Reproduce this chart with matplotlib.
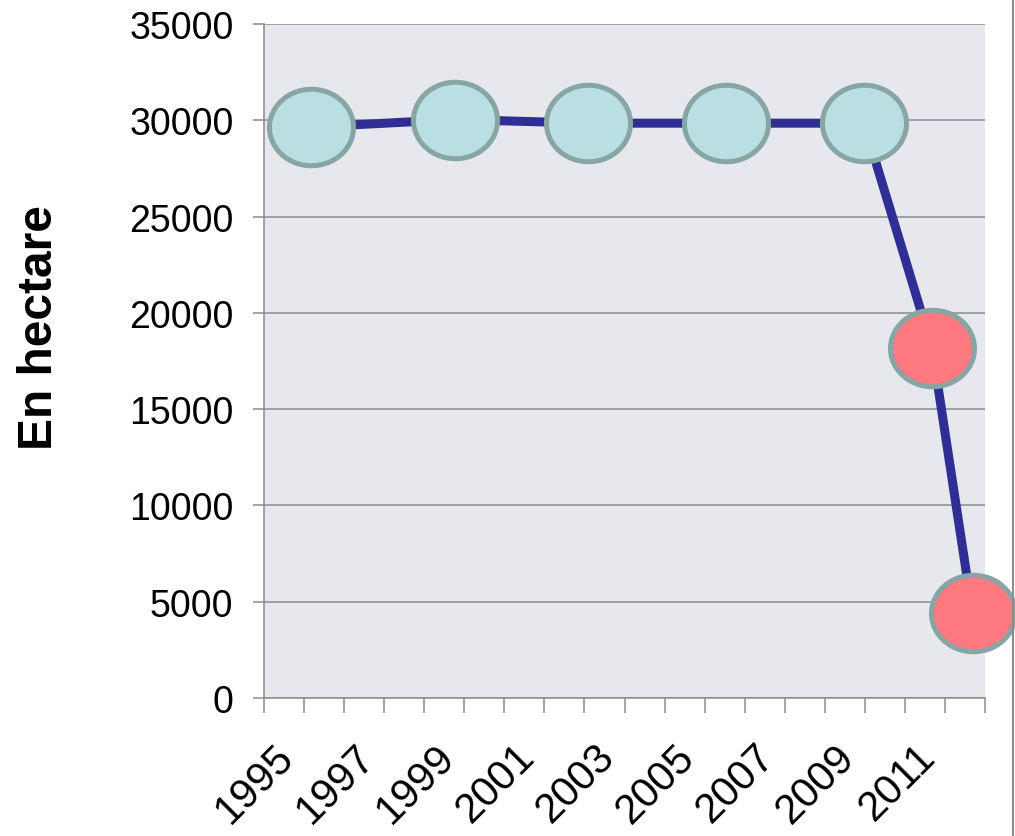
import numpy as np
import matplotlib.pyplot as plt
from matplotlib.path import Path
from matplotlib.lines import Line2D
from matplotlib.transforms import ScaledTranslation

# Datos: superficie (hectáreas) por año
anios = [1995.68, 1999.28, 2002.59, 2006.04, 2009.48, 2011.18, 2012.19]
hectareas = [29650, 30040, 29850, 29850, 29850, 18170, 4390]
anios_etiqueta = [1995, 1997, 1999, 2001, 2003, 2005, 2007, 2009, 2011]

plt.rcParams['font.family'] = ['Liberation Sans', 'DejaVu Sans']

fig = plt.figure(figsize=(10.15, 8.37), dpi=100)
ax = fig.add_axes([264 / 1015, 1 - 699 / 837, 721 / 1015, 674 / 837])
ax.set_facecolor('#E7E8EE')

# Marcador elíptico (un poco más ancho que alto)
t = np.linspace(0, 2 * np.pi, 120)
elipse = Path(np.column_stack([np.cos(t), 0.91 * np.sin(t)]))

ax.plot(anios, hectareas, color='#2E2E94', linewidth=6.5, zorder=3, clip_on=False)
ax.plot(anios[:5], hectareas[:5], linestyle='none', marker=elipse, markersize=60.5,
        markerfacecolor='#B9DFE2', markeredgecolor='#88A5A6', markeredgewidth=3.6,
        zorder=4, clip_on=False)
ax.plot(anios[5:], hectareas[5:], linestyle='none', marker=elipse, markersize=60.5,
        markerfacecolor='#FF7A80', markeredgecolor='#88A5A6', markeredgewidth=3.6,
        zorder=4, clip_on=False)

# Ejes: marcas entre categorías, etiquetas en los años impares
ax.set_xlim(1994.5, 2012.5)
ax.set_ylim(0, 35000)
ax.set_yticks(np.arange(0, 35001, 5000))
ax.set_xticks(np.arange(1994.5, 2012.6, 1))
ax.set_xticklabels([])

# Etiquetas del eje x giradas 45°, ancladas por su esquina superior derecha
trans = ax.get_xaxis_transform() + ScaledTranslation(-0.10, -0.38, fig.dpi_scale_trans)
for a in anios_etiqueta:
    ax.text(a, 0, str(a), transform=trans, rotation=45, rotation_mode='anchor',
            ha='right', va='top', fontsize=30, clip_on=False)

ax.grid(axis='y', color='#8C8C8C', linewidth=1.1, zorder=1)
ax.set_axisbelow(True)
for lado in ['top', 'right']:
    ax.spines[lado].set_visible(False)
for lado in ['left', 'bottom']:
    ax.spines[lado].set_color('#8C8C8C')
    ax.spines[lado].set_linewidth(1.1)

ax.tick_params(axis='y', length=8, width=1.1, color='#8C8C8C', labelsize=27, pad=14)
ax.tick_params(axis='x', length=11, width=1.1, color='#8C8C8C')

ax.text(-0.312, 0.5504, 'En hectare', transform=ax.transAxes, rotation=90,
        ha='center', va='center', fontsize=34.5, fontweight='bold')

# Borde derecho del área del gráfico
fig.add_artist(Line2D([1013 / 1015, 1013 / 1015], [0, 1], color='#8C8C8C',
                      linewidth=1.5, transform=fig.transFigure))

fig.savefig('out.png', dpi=100)
